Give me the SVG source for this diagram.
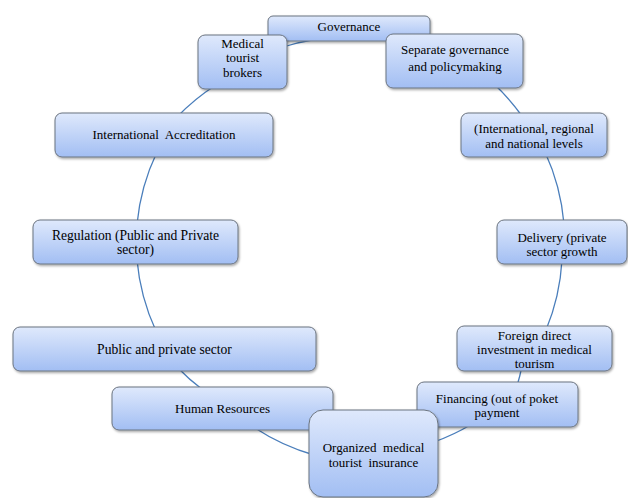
<svg xmlns="http://www.w3.org/2000/svg" width="628" height="498" viewBox="0 0 628 498">
<defs>
<linearGradient id="g" x1="0" y1="0" x2="0" y2="1">
<stop offset="0" stop-color="#dfe9fc"/>
<stop offset="1" stop-color="#a2bef3"/>
</linearGradient>
<filter id="sh" x="-10%" y="-10%" width="120%" height="130%">
<feDropShadow dx="1" dy="1.5" stdDeviation="1" flood-color="#000" flood-opacity="0.35"/>
</filter>
<style>
.box{fill:url(#g);stroke:#6b7480;stroke-width:1;filter:url(#sh)}
.t{font-family:"Liberation Serif","Times New Roman",serif;font-size:13px;fill:#000;text-anchor:middle;white-space:pre}
.l{font-size:13.6px}
.c{fill:none;stroke:#4a7ebb;stroke-width:1.3}
</style>
</defs>
<rect width="628" height="498" fill="#fff"/>
<g id="connectors">
<path class="c" d="M494 84 A214 214 0 0 1 522 116"/>
<path class="c" d="M545 152 A214 214 0 0 1 564 224"/>
<path class="c" d="M562 260 A214 214 0 0 1 546 330"/>
<path class="c" d="M522 366 A214 214 0 0 1 517 386"/>
<path class="c" d="M472 424 A214 214 0 0 1 434 442"/>
<path class="c" d="M314 455 A214 214 0 0 1 255 428"/>
<path class="c" d="M203 390 A214 214 0 0 1 177 367"/>
<path class="c" d="M156 331 A214 214 0 0 1 137 260"/>
<path class="c" d="M137 224 A214 214 0 0 1 157 152"/>
<path class="c" d="M177 117 A214 214 0 0 1 216 85"/>
<path class="c" d="M283 47 A214 214 0 0 1 312 40"/>
</g>
<g id="governance">
<rect class="box" x="268" y="16" width="162" height="25" rx="5"/>
<text class="t" x="349" y="31">Governance</text>
</g>
<g id="medical-brokers">
<rect class="box" x="198" y="35" width="89" height="54" rx="7"/>
<text class="t" x="242.5" y="47.5">Medical</text>
<text class="t" x="242.5" y="62">tourist</text>
<text class="t" x="242.5" y="76.5">brokers</text>
</g>
<g id="separate-governance">
<rect class="box" x="386" y="34" width="137" height="54" rx="7"/>
<text class="t" x="455" y="54">Separate governance</text>
<text class="t" x="455" y="71">and policymaking</text>
</g>
<g id="intl-accreditation">
<rect class="box" x="55" y="113" width="218" height="44" rx="7"/>
<text class="t" x="164" y="139">International  Accreditation</text>
</g>
<g id="intl-levels">
<rect class="box" x="461" y="113" width="146" height="44" rx="7"/>
<text class="t" x="534" y="132.5">(International, regional</text>
<text class="t" x="534" y="147.5">and national levels</text>
</g>
<g id="regulation">
<rect class="box" x="33" y="220" width="205" height="44" rx="7"/>
<text class="t l" x="135.5" y="239.5">Regulation (Public and Private</text>
<text class="t l" x="135.5" y="254">sector)</text>
</g>
<g id="delivery">
<rect class="box" x="497" y="220" width="130" height="44" rx="7"/>
<text class="t" x="562" y="241.5">Delivery (private</text>
<text class="t" x="562" y="255.5">sector growth</text>
</g>
<g id="public-private">
<rect class="box" x="13" y="327" width="303" height="44" rx="7"/>
<text class="t l" x="164.5" y="353.5">Public and private sector</text>
</g>
<g id="foreign-investment">
<rect class="box" x="457" y="326" width="155" height="45" rx="7"/>
<text class="t" x="534.5" y="339.5">Foreign direct</text>
<text class="t" x="534.5" y="353.5">investment in medical</text>
<text class="t" x="534.5" y="367.5">tourism</text>
</g>
<g id="human-resources">
<rect class="box" x="112" y="387" width="221" height="43" rx="7"/>
<text class="t" x="222.5" y="412.5">Human Resources</text>
</g>
<g id="financing">
<rect class="box" x="417" y="382" width="161" height="45" rx="7"/>
<text class="t" x="497" y="402.5">Financing (out of poket</text>
<text class="t" x="497" y="416.5">payment</text>
</g>
<g id="insurance">
<rect class="box" x="309" y="410" width="129" height="87" rx="14"/>
<text class="t" x="373.5" y="452">Organized  medical</text>
<text class="t" x="373.5" y="467">tourist  insurance</text>
</g>
</svg>
